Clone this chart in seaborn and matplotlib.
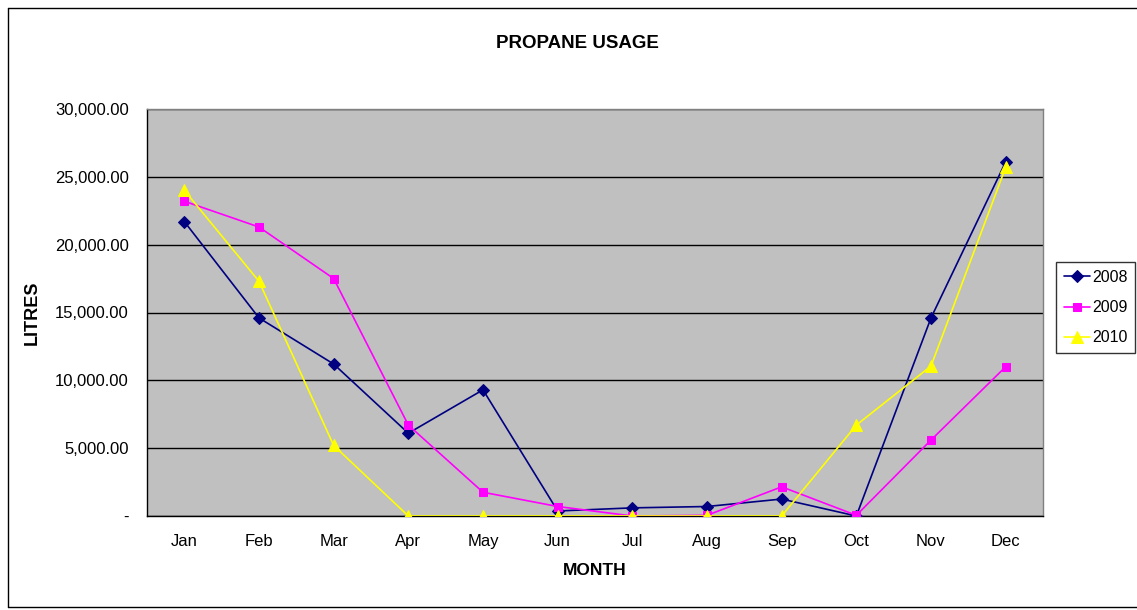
"""Propane usage by month, 2008-2010."""

import matplotlib

matplotlib.use("Agg")

import matplotlib.pyplot as plt
import pandas as pd
import seaborn as sns
from matplotlib.ticker import FixedLocator, FuncFormatter

MONTHS = ["Jan", "Feb", "Mar", "Apr", "May", "Jun", "Jul", "Aug", "Sep", "Oct", "Nov", "Dec"]
USAGE_2008 = [21700, 14600, 11200, 6100, 9300, 370, 600, 700, 1250, 0, 14600, 26100]
USAGE_2009 = [23200, 21300, 17500, 6700, 1750, 700, 0, 50, 2150, 50, 5600, 11000]
USAGE_2010 = [24000, 17300, 5200, 0, 0, 0, 0, 0, 0, 6700, 11050, 25700]
YEARS = ["2008", "2009", "2010"]

STYLE = {
    "2008": dict(color="#000080", marker="D", markersize=6),
    "2009": dict(color="#FF00FF", marker="s", markersize=6),
    "2010": dict(color="#FFFF00", marker="^", markersize=8),
}


def build_frame() -> pd.DataFrame:
    frames = []
    for year, values in zip(YEARS, [USAGE_2008, USAGE_2009, USAGE_2010]):
        frames.append(pd.DataFrame({"Month": MONTHS, "Litres": values, "Year": year}))
    return pd.concat(frames, ignore_index=True)


def plot_usage() -> None:
    df = build_frame()
    sns.set_style("white")
    plt.rcParams["font.family"] = ["Liberation Sans", "DejaVu Sans"]
    plt.rcParams["text.color"] = "black"
    plt.rcParams["xtick.color"] = "black"
    plt.rcParams["ytick.color"] = "black"
    plt.rcParams["axes.labelcolor"] = "black"

    fig = plt.figure(figsize=(11.37, 6.1), dpi=100)
    ax = fig.add_axes([147 / 1137, 1 - 516 / 610, 896 / 1137, 407 / 610])
    ax.set_facecolor("#C0C0C0")

    for year in YEARS:
        sub = df[df["Year"] == year]
        st = STYLE[year]
        sns.lineplot(
            data=sub, x="Month", y="Litres", ax=ax, color=st["color"],
            marker=st["marker"], markersize=st["markersize"],
            markeredgecolor=st["color"], linewidth=1.2, label=year, zorder=3,
        )

    ax.set_xlim(-0.5, 11.5)
    ax.set_ylim(0, 30000)
    ax.set_yticks(range(0, 30001, 5000))
    ax.yaxis.set_major_formatter(
        FuncFormatter(lambda v, _: "-" if v == 0 else f"{v:,.2f}")
    )
    ax.grid(axis="y", color="black", linewidth=1)
    ax.set_axisbelow(True)

    ax.set_xticks(range(len(MONTHS)))
    ax.set_xticklabels(MONTHS)
    ax.xaxis.set_minor_locator(FixedLocator([i - 0.5 for i in range(len(MONTHS) + 1)]))
    ax.tick_params(axis="x", which="major", length=0, pad=13, labelsize=12)
    ax.tick_params(axis="x", which="minor", length=5, width=1, color="black", direction="out")
    ax.tick_params(axis="y", length=5, width=1, color="black", direction="out", pad=8, labelsize=12)

    for name, spine in ax.spines.items():
        spine.set_color("#808080")
        spine.set_linewidth(1)
    ax.spines["left"].set_color("black")
    ax.spines["bottom"].set_color("black")

    ax.set_xlabel("MONTH", fontsize=12.5, fontweight="bold", labelpad=10)
    ax.set_ylabel("LITRES", fontsize=13, fontweight="bold", labelpad=10)
    fig.text(577 / 1137, 1 - 43 / 610, "PROPANE USAGE", ha="center", va="center",
             fontsize=13.5, fontweight="bold")

    leg = ax.legend(loc="upper left", bbox_to_anchor=(1056 / 1137, 1 - 262 / 610),
                    bbox_transform=fig.transFigure, frameon=True, fancybox=False,
                    fontsize=11.5, handlelength=1.6, borderpad=0.5, labelspacing=0.95,
                    handletextpad=0.15, borderaxespad=0)
    leg.get_frame().set_edgecolor("black")
    leg.get_frame().set_linewidth(1)

    # outer chart border
    fig.add_artist(plt.Line2D([8 / 1137, 8 / 1137], [3 / 610, 1 - 8 / 610],
                              transform=fig.transFigure, color="black", linewidth=1))
    fig.add_artist(plt.Line2D([8 / 1137, 1], [1 - 8 / 610, 1 - 8 / 610],
                              transform=fig.transFigure, color="black", linewidth=1))
    fig.add_artist(plt.Line2D([8 / 1137, 1], [3 / 610, 3 / 610],
                              transform=fig.transFigure, color="black", linewidth=1))

    fig.savefig("out.png", dpi=100)
    plt.close(fig)


if __name__ == "__main__":
    plot_usage()
